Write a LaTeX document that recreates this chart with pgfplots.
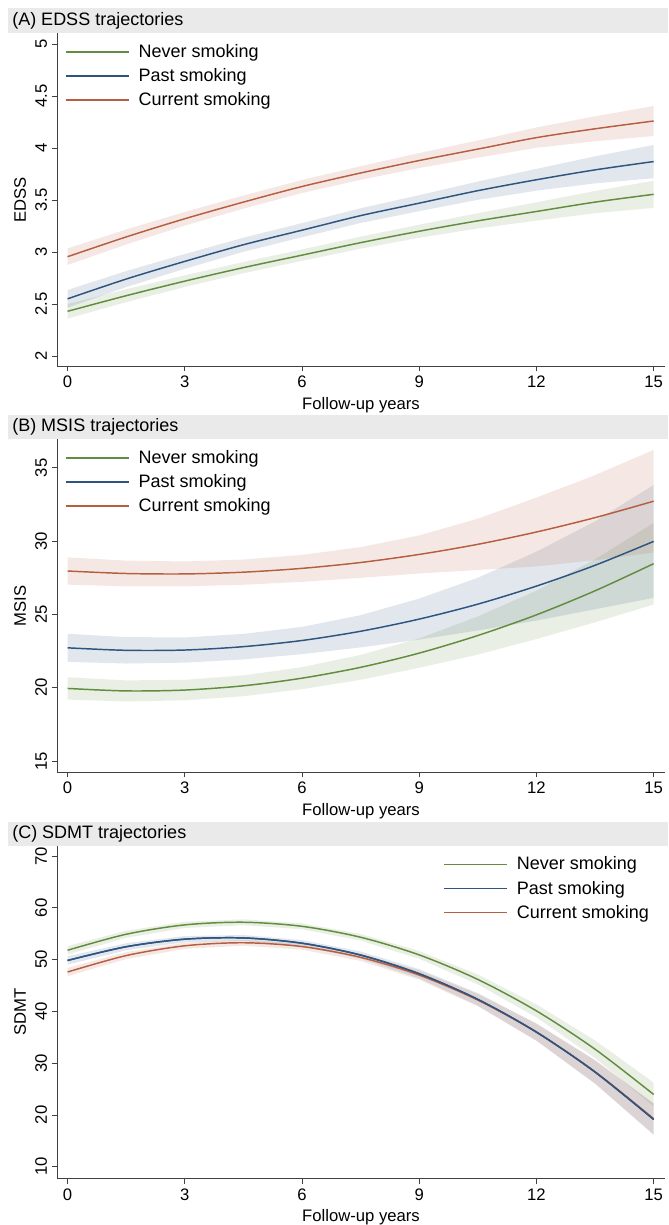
\documentclass[border=0pt]{standalone}
\usepackage{fontspec}
\setmainfont{Liberation Sans}
\usepackage{pgfplots}
\pgfplotsset{compat=1.18}
\usepackage{pgfplotstable}

\definecolor{nevc}{RGB}{98,140,62}
\definecolor{pasc}{RGB}{46,84,128}
\definecolor{curc}{RGB}{182,94,64}
\definecolor{barc}{RGB}{234,234,234}

% ---------- Panel A: EDSS (lines) ----------
\pgfplotstableread[row sep=\\]{x m\\0 2.430\\1.5 2.580\\3 2.720\\4.5 2.850\\6 2.970\\7.5 3.090\\9 3.200\\10.5 3.300\\12 3.390\\13.5 3.480\\15 3.555\\}\An
\pgfplotstableread[row sep=\\]{x m\\0 2.550\\1.5 2.740\\3 2.910\\4.5 3.070\\6 3.210\\7.5 3.350\\9 3.470\\10.5 3.590\\12 3.695\\13.5 3.790\\15 3.870\\}\Ap
\pgfplotstableread[row sep=\\]{x m\\0 2.955\\1.5 3.145\\3 3.320\\4.5 3.480\\6 3.630\\7.5 3.760\\9 3.880\\10.5 3.990\\12 4.100\\13.5 4.185\\15 4.260\\}\Ac
% Panel A bands (upper edge forward, lower edge back)
\pgfplotstableread[row sep=\\]{x y\\0 2.500\\1.5 2.642\\3 2.776\\4.5 2.904\\6 3.025\\7.5 3.148\\9 3.263\\10.5 3.373\\12 3.478\\13.5 3.587\\15 3.685\\15 3.425\\13.5 3.373\\12 3.302\\10.5 3.227\\9 3.137\\7.5 3.032\\6 2.915\\4.5 2.796\\3 2.664\\1.5 2.518\\0 2.360\\}\Anb
\pgfplotstableread[row sep=\\]{x y\\0 2.635\\1.5 2.817\\3 2.981\\4.5 3.138\\6 3.278\\7.5 3.421\\9 3.547\\10.5 3.678\\12 3.800\\13.5 3.920\\15 4.030\\15 3.710\\13.5 3.660\\12 3.590\\10.5 3.502\\9 3.393\\7.5 3.279\\6 3.142\\4.5 3.002\\3 2.839\\1.5 2.663\\0 2.465\\}\Apb
\pgfplotstableread[row sep=\\]{x y\\0 3.035\\1.5 3.217\\3 3.386\\4.5 3.543\\6 3.693\\7.5 3.826\\9 3.952\\10.5 4.073\\12 4.198\\13.5 4.305\\15 4.405\\15 4.115\\13.5 4.065\\12 4.002\\10.5 3.907\\9 3.808\\7.5 3.694\\6 3.567\\4.5 3.417\\3 3.254\\1.5 3.073\\0 2.875\\}\Acb

% ---------- Panel B: MSIS ----------
\pgfplotstableread[row sep=\\]{x m\\0 19.95\\1.5 19.78\\3 19.84\\4.5 20.13\\6 20.65\\7.5 21.39\\9 22.36\\10.5 23.56\\12 24.97\\13.5 26.61\\15 28.46\\}\Bn
\pgfplotstableread[row sep=\\]{x m\\0 22.72\\1.5 22.55\\3 22.57\\4.5 22.80\\6 23.22\\7.5 23.85\\9 24.68\\10.5 25.70\\12 26.93\\13.5 28.35\\15 29.98\\}\Bp
\pgfplotstableread[row sep=\\]{x m\\0 27.96\\1.5 27.79\\3 27.76\\4.5 27.88\\6 28.14\\7.5 28.54\\9 29.09\\10.5 29.78\\12 30.62\\13.5 31.60\\15 32.72\\}\Bc
\pgfplotstableread[row sep=\\]{x y\\0 20.71\\1.5 20.50\\3 20.54\\4.5 20.84\\6 21.40\\7.5 22.24\\9 23.36\\10.5 24.86\\12 26.62\\13.5 28.76\\15 31.24\\15 25.68\\13.5 24.46\\12 23.32\\10.5 22.26\\9 21.36\\7.5 20.54\\6 19.90\\4.5 19.42\\3 19.14\\1.5 19.06\\0 19.19\\}\Bnb
\pgfplotstableread[row sep=\\]{x y\\0 23.68\\1.5 23.45\\3 23.43\\4.5 23.67\\6 24.15\\7.5 24.95\\9 26.08\\10.5 27.50\\12 29.28\\13.5 31.35\\15 33.83\\15 26.13\\13.5 25.35\\12 24.58\\10.5 23.90\\9 23.28\\7.5 22.75\\6 22.29\\4.5 21.93\\3 21.71\\1.5 21.65\\0 21.76\\}\Bpb
\pgfplotstableread[row sep=\\]{x y\\0 28.89\\1.5 28.67\\3 28.61\\4.5 28.74\\6 29.06\\7.5 29.59\\9 30.39\\10.5 31.53\\12 32.97\\13.5 34.50\\15 36.22\\15 29.22\\13.5 28.70\\12 28.27\\10.5 28.03\\9 27.79\\7.5 27.49\\6 27.22\\4.5 27.02\\3 26.91\\1.5 26.91\\0 27.03\\}\Bcb

% ---------- Panel C: SDMT ----------
\pgfplotstableread[row sep=\\]{x m\\0 51.80\\1.5 54.89\\3 56.70\\4.5 57.21\\6 56.42\\7.5 54.31\\9 50.90\\10.5 46.16\\12 40.09\\13.5 32.69\\15 23.95\\}\Cn
\pgfplotstableread[row sep=\\]{x m\\0 49.83\\1.5 52.48\\3 53.94\\4.5 54.18\\6 53.16\\7.5 50.87\\9 47.26\\10.5 42.31\\12 36.00\\13.5 28.28\\15 19.13\\}\Cp
\pgfplotstableread[row sep=\\]{x m\\0 47.60\\1.5 50.77\\3 52.66\\4.5 53.25\\6 52.51\\7.5 50.43\\9 47.00\\10.5 42.18\\12 35.97\\13.5 28.33\\15 19.26\\}\Cc
\pgfplotstableread[row sep=\\]{x y\\0 52.60\\1.5 55.57\\3 57.30\\4.5 57.77\\6 56.99\\7.5 54.94\\9 51.65\\10.5 47.11\\12 41.34\\13.5 34.39\\15 26.25\\15 21.65\\13.5 30.99\\12 38.84\\10.5 45.21\\9 50.15\\7.5 53.68\\6 55.85\\4.5 56.65\\3 56.10\\1.5 54.21\\0 51.00\\}\Cnb
\pgfplotstableread[row sep=\\]{x y\\0 50.63\\1.5 53.16\\3 54.54\\4.5 54.75\\6 53.76\\7.5 51.57\\9 48.16\\10.5 43.51\\12 37.65\\13.5 30.53\\15 22.13\\15 16.13\\13.5 26.03\\12 34.35\\10.5 41.11\\9 46.36\\7.5 50.17\\6 52.56\\4.5 53.61\\3 53.34\\1.5 51.80\\0 49.03\\}\Cpb
\pgfplotstableread[row sep=\\]{x y\\0 48.40\\1.5 51.45\\3 53.26\\4.5 53.82\\6 53.11\\7.5 51.13\\9 47.90\\10.5 43.38\\12 37.62\\13.5 30.58\\15 22.26\\15 16.26\\13.5 26.08\\12 34.32\\10.5 40.98\\9 46.10\\7.5 49.73\\6 51.91\\4.5 52.68\\3 52.06\\1.5 50.09\\0 46.80\\}\Ccb

\pgfplotsset{
  panel/.style={
    scale only axis, width=456pt, height=249.5pt,
    xmin=-0.27, xmax=15.29,
    axis x line*=bottom, axis y line*=left,
    axis line style={-, black!75, line width=0.6pt},
    xtick={0,3,6,9,12,15},
    tick align=outside, major tick length=4pt,
    tick style={black!75, line width=0.6pt},
    /pgf/number format/assume math mode=true,
    tick label style={font=\fontsize{12.5}{14}\selectfont},
    yticklabel style={rotate=90, anchor=south},
    label style={font=\fontsize{12.5}{14}\selectfont},
    xlabel={Follow-up years},
    legend cell align=left,
    legend style={draw=none, fill=none, inner sep=0pt,
      font=\fontsize{13.5}{15}\selectfont, row sep=2.8pt,
      /tikz/every odd column/.append style={column sep=5pt}},
    legend image code/.code={\draw[##1] (0pt,0pt) -- (47pt,0pt);},
  },
  ln/.style={#1, line width=1.1pt, smooth},
  bnd/.style={draw=none, fill=#1, fill opacity=0.14, forget plot},
}

\begin{document}
\begin{tikzpicture}
\path[use as bounding box] (0,0) rectangle (501pt,-918.75pt);
\fill[barc] (6pt,-6.2pt) rectangle (501pt,-25pt);
\node[anchor=west, inner sep=0pt, font=\fontsize{13.5}{15}\selectfont] at (9pt,-15.6pt) {(A) EDSS trajectories};
\fill[barc] (6pt,-311.25pt) rectangle (501pt,-329.5pt);
\node[anchor=west, inner sep=0pt, font=\fontsize{13.5}{15}\selectfont] at (9pt,-320.4pt) {(B) MSIS trajectories};
\fill[barc] (6pt,-616.3pt) rectangle (501pt,-634.5pt);
\node[anchor=west, inner sep=0pt, font=\fontsize{13.5}{15}\selectfont] at (9pt,-625.4pt) {(C) SDMT trajectories};

\begin{axis}[panel, at={(42.75pt,-25pt)}, anchor=north west,
  ymin=1.904, ymax=5.103, ytick={2,2.5,...,5}, ylabel={EDSS},
  legend style={at={(0.013,1)}, anchor=north west, yshift=-6pt}]
\addplot[bnd=nevc] table[x=x,y=y]{\Anb};
\addplot[bnd=pasc] table[x=x,y=y]{\Apb};
\addplot[bnd=curc] table[x=x,y=y]{\Acb};
\addplot[ln=nevc] table[x=x,y=m]{\An};
\addplot[ln=pasc] table[x=x,y=m]{\Ap};
\addplot[ln=curc] table[x=x,y=m]{\Ac};
\legend{Never smoking, Past smoking, Current smoking}
\end{axis}

\begin{axis}[panel, at={(42.75pt,-329.5pt)}, anchor=north west,
  ymin=14.25, ymax=36.94, ytick={15,20,...,35}, ylabel={MSIS},
  legend style={at={(0.013,1)}, anchor=north west, yshift=-6pt}]
\addplot[bnd=nevc] table[x=x,y=y]{\Bnb};
\addplot[bnd=pasc] table[x=x,y=y]{\Bpb};
\addplot[bnd=curc] table[x=x,y=y]{\Bcb};
\addplot[ln=nevc] table[x=x,y=m]{\Bn};
\addplot[ln=pasc] table[x=x,y=m]{\Bp};
\addplot[ln=curc] table[x=x,y=m]{\Bc};
\legend{Never smoking, Past smoking, Current smoking}
\end{axis}

\begin{axis}[panel, at={(42.75pt,-634.5pt)}, anchor=north west,
  ymin=7.69, ymax=71.93, ytick={10,20,...,70}, ylabel={SDMT},
  legend style={at={(0.635,1)}, anchor=north west, yshift=-6pt}]
\addplot[bnd=nevc] table[x=x,y=y]{\Cnb};
\addplot[bnd=pasc] table[x=x,y=y]{\Cpb};
\addplot[bnd=curc] table[x=x,y=y]{\Ccb};
\addplot[ln=nevc] table[x=x,y=m]{\Cn};
\addplot[ln=pasc] table[x=x,y=m]{\Cp};
\addplot[ln=curc] table[x=x,y=m]{\Cc};
\addplot[ln=pasc, forget plot] table[x=x,y=m]{\Cp};
\legend{Never smoking, Past smoking, Current smoking}
\end{axis}
\end{tikzpicture}
\end{document}
